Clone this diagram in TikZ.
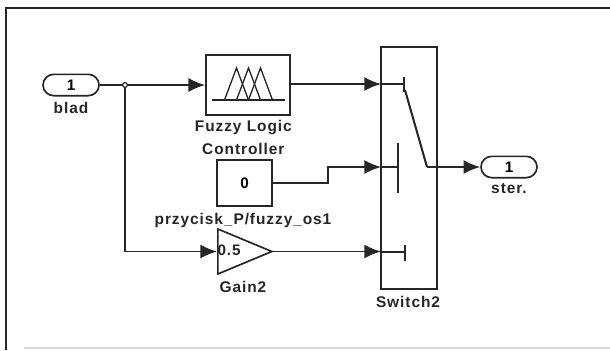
\documentclass[tikz,border=0pt]{standalone}
\usepackage{fontspec}
\setmainfont[LetterSpace=6]{Liberation Sans}
\usetikzlibrary{arrows.meta,shapes.geometric,shapes.misc,positioning}
\tikzset{
  basic/.style  = {draw=black!85, line width=0.5mm, inner sep=0pt},
  port/.style   = {basic, rounded rectangle, minimum width=1.68cm, minimum height=0.64cm,
                   font=\bfseries\fontsize{13}{13}\selectfont},
  block/.style  = {basic, rectangle},
  gain/.style   = {basic, isosceles triangle, isosceles triangle apex angle=80,
                   isosceles triangle stretches, minimum width=1.35cm, minimum height=1.62cm},
  caption/.style = {font=\bfseries\fontsize{13.2}{19.5}\selectfont, text=black!85, align=center, inner sep=0pt},
  signal/.style = {draw=black!85, line width=0.5mm, -{Latex[length=5mm,width=4.2mm]}},
  wire/.style   = {draw=black!85, line width=0.5mm},
  bar/.style    = {draw=black!85, line width=0.8mm}
}
\begin{document}
\begin{tikzpicture}[x=0.03cm,y=-0.03cm]
	\useasboundingbox (0,0) rectangle (610,350);

	% outer frame of the model window
	\draw[line width=0.6mm,black!85] (610,8) -- (6,8) -- (6,350);
	\draw[line width=0.4mm,black!15] (24,348) -- (610,348);

	% ports and blocks
	\node[port] (blad) at (71,85) {1};
	\node[port] (ster) at (509,167) {1};
	\node[block, minimum width=2.52cm, minimum height=1.8cm] (fuzzy) at (248,85) {};
	\node[block, minimum width=1.65cm, minimum height=1.38cm, font=\bfseries\fontsize{13}{13}\selectfont] (zero) at (244.5,183) {0};
	\node[gain, anchor=lower side] (gain2) at (217,251.5) {};
	\node[block, minimum width=1.68cm, minimum height=7.26cm] (switch2) at (409,168) {};

	% block labels
	\node[caption, below=0.16cm of blad] (bladlabel) {blad};
	\node[caption, below=0.14cm of ster] (sterlabel) {ster.};
	\node[caption, below=0.13cm of fuzzy, xshift=-4pt] (fuzzylabel) {Fuzzy Logic\\Controller};
	\node[caption] (zerolabel) at (243,220) {przycisk\_P/fuzzy\_os1};
	\node[caption] (gainlabel) at (243,287) {Gain2};
	\node[caption] (switchlabel) at (408,302) {Switch2};
	\node[caption, font=\bfseries\fontsize{13}{13}\selectfont] (gainvalue) at (229,250) {0.5};

	% membership functions of the fuzzy block
	\coordinate (base) at (248.5,100);
	\draw[wire, line width=0.4mm] ([xshift=-1.1cm]base) -- ([xshift=1.1cm]base);
	\foreach \value in {-12,0,12}
	  \draw[wire, line width=0.4mm] ([xshift=\value*0.03cm-0.36cm]base) -- ([xshift=\value*0.03cm,yshift=0.96cm]base)
	    -- ([xshift=\value*0.03cm+0.36cm]base);

	% junction and feedback of the input
	\coordinate (branch) at (125,85);
	\coordinate (upper) at (381,84);
	\coordinate (middle) at (381,167);
	\coordinate (lower) at (381,252);
	\coordinate (output) at (427,167);
	\coordinate (upperbar) at (404,84);
	\coordinate (middlebar) at (398,167);
	\coordinate (lowerbar) at (405,252);

	\draw[signal] (blad.east) -- (fuzzy.west);
	\draw[signal] (branch) |- (gain2.lower side);
	\draw[wire, fill=white, line width=0.35mm] (branch) circle (2.4);

	% lines into the switch
	\draw[signal] (fuzzy.east |- upper) -- (upper);
	\draw[signal] (zero.east) -- ++(55,0) |- (middle);
	\draw[signal] (gain2.apex) -- (gain2.apex -| lower);
	\draw[signal] (output) -- (ster.west);

	% contacts inside the switch
	\foreach \value/\inner in {upper/upperbar,middle/middlebar,lower/lowerbar}
	  \draw[wire] (\value) -- (\inner);
	\draw[bar] (404,77) -- (404,92);
	\draw[wire] (398,143) -- (398,193);
	\draw[bar] (405,245) -- (405,261);
	\draw[wire, line width=0.6mm] (upperbar) ++(1,6) -- (output);
\end{tikzpicture}
\end{document}
